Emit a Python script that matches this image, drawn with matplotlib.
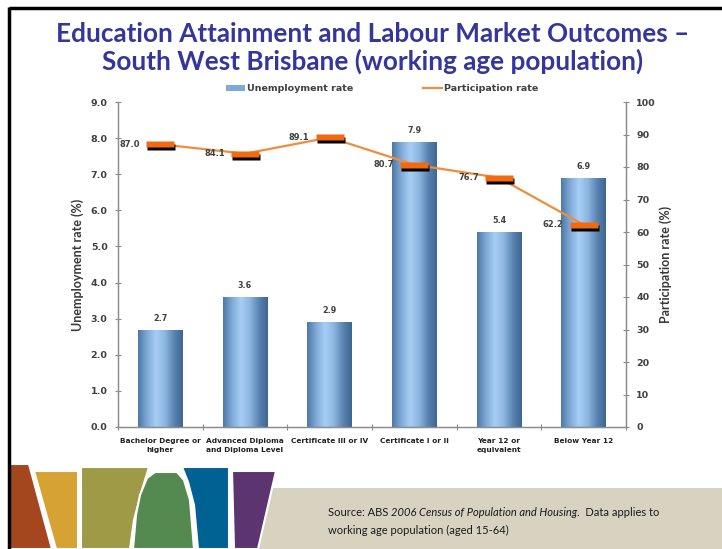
import numpy as np
import matplotlib
matplotlib.use("Agg")
import matplotlib.pyplot as plt
from matplotlib.patches import Polygon, Rectangle
from matplotlib.lines import Line2D
from matplotlib.transforms import offset_copy
from matplotlib.colors import LinearSegmentedColormap

categories = [
    "Bachelor Degree or\nhigher",
    "Advanced Diploma\nand Diploma Level",
    "Certificate III or IV",
    "Certificate I or II",
    "Year 12 or\nequivalent",
    "Below Year 12",
]
unemployment = [2.7, 3.6, 2.9, 7.9, 5.4, 6.9]
participation = [87.0, 84.1, 89.1, 80.7, 76.7, 62.2]
unemp_ticks = np.arange(0, 10, 1)
part_ticks = np.arange(0, 101, 10)

TITLE = "Education Attainment and Labour Market Outcomes \u2013\nSouth West Brisbane (working age population)"
TITLE_COLOR = "#34369C"
LABEL_COLOR = "#404040"
AXIS_COLOR = "#8C8C8C"
LINE_COLOR = "#F08C3C"
MARK_COLOR = "#F26A0F"

W, H = 722, 549
fig = plt.figure(figsize=(W / 100, H / 100), dpi=100)
fig.patch.set_facecolor("white")

# chart area in pixel terms: x 118..626, y 102..427
ax = fig.add_axes([118 / W, 1 - 427 / H, (626 - 118) / W, (427 - 102) / H])
ax2 = ax.twinx()

x = np.arange(len(categories))
bars = ax.bar(x, unemployment, width=0.53, color="none", edgecolor="none", zorder=2)

cyl = LinearSegmentedColormap.from_list(
    "cyl", ["#4C78A6", "#7FA9D6", "#A6CEF5", "#8DB6E0", "#5A84B2", "#3E6690"]
)
grad = np.linspace(0, 1, 256).reshape(1, -1)
for b in bars:
    x0, y0, w, h = b.get_x(), b.get_y(), b.get_width(), b.get_height()
    im = ax.imshow(grad, cmap=cyl, extent=(x0, x0 + w, y0, y0 + h),
                   aspect="auto", zorder=2, interpolation="bicubic")
    im.set_clip_path(b)

for xi, v in zip(x, unemployment):
    ax.annotate(f"{v:.1f}", (xi, v), xytext=(0, 5), textcoords="offset points",
                ha="center", va="bottom", fontsize=5.8, fontweight="bold",
                color=LABEL_COLOR)

ax.set_xlim(-0.5, len(categories) - 0.5)
ax.set_ylim(0, 9)
ax2.set_ylim(0, 100)

# participation line with bar-shaped markers and black shadows
ax2.plot(x, participation, color=LINE_COLOR, lw=1.6, zorder=3)
rect = [(-2.5, -0.5), (2.5, -0.5), (2.5, 0.5), (-2.5, 0.5), (-2.5, -0.5)]
shadow_tr = offset_copy(ax2.transData, fig=fig, x=1.0, y=-3.0, units="dots")
ax2.plot(x, participation, ls="none", marker=rect, markersize=20.5,
         color="black", mec="none", transform=shadow_tr, zorder=4)
ax2.plot(x, participation, ls="none", marker=rect, markersize=20.5,
         color=MARK_COLOR, mec="none", zorder=5)
for xi, v in zip(x, participation):
    ax2.annotate(f"{v:.1f}", (xi, v), xytext=(-14.5, 0), textcoords="offset points",
                 ha="right", va="center", fontsize=6, fontweight="bold",
                 color=LABEL_COLOR, zorder=6)

# axes styling
for a in (ax, ax2):
    for s in a.spines.values():
        s.set_color(AXIS_COLOR)
        s.set_linewidth(0.9)
    a.spines["top"].set_visible(False)

ax.set_yticks(unemp_ticks)
ax.set_yticklabels([f"{t:.1f}" for t in unemp_ticks])
ax2.set_yticks(part_ticks)
ax2.set_yticklabels([f"{t}" for t in part_ticks])
ax.tick_params(axis="y", direction="inout", length=5, width=0.8, color=AXIS_COLOR,
               labelsize=6.8, labelcolor=LABEL_COLOR, pad=5)
ax2.tick_params(axis="y", direction="inout", length=5, width=0.8, color=AXIS_COLOR,
                labelsize=6.8, labelcolor=LABEL_COLOR, pad=5)
for lab in ax.get_yticklabels() + ax2.get_yticklabels():
    lab.set_fontweight("bold")

ax.set_xticks(np.arange(-0.5, len(categories), 1.0))
ax.set_xticklabels([])
ax.set_xticks(x, minor=True)
ax.set_xticklabels(categories, minor=True, linespacing=1.55)
ax.tick_params(axis="x", which="major", direction="inout", length=5, width=0.8,
               color=AXIS_COLOR)
ax.tick_params(axis="x", which="minor", length=0, labelsize=5.3,
               labelcolor="#202020", pad=8)
for lab in ax.get_xticklabels(minor=True):
    lab.set_fontweight("bold")

ax.set_ylabel("Unemployment rate (%)", fontsize=9, fontweight="bold",
              color="#383838", family="Lato", labelpad=5)
ax2.set_ylabel("Participation rate (%)", fontsize=9, fontweight="bold",
               color="#383838", family="Lato", labelpad=2)

# legend
h_bar = Rectangle((0, 0), 1, 1, facecolor="#7FA9D6", edgecolor="none")
h_line = Line2D([], [], color=LINE_COLOR, lw=1.6)
leg = ax.legend([h_bar, h_line], ["Unemployment rate", "Participation rate"],
                loc="lower center", bbox_to_anchor=(0.52, 1.015), ncol=2,
                frameon=False, fontsize=6.8, handlelength=2.0, handleheight=0.5,
                columnspacing=7.3, handletextpad=0.3, borderaxespad=0)
for t in leg.get_texts():
    t.set_fontweight("bold")
    t.set_color(LABEL_COLOR)

fig.text(373 / W, 1 - 48 / H, TITLE, ha="center", va="center", fontsize=18.8,
         fontweight="bold", color=TITLE_COLOR, family="Lato", linespacing=1.12)

# decorative slide footer and frame, in pixel coordinates
deco = fig.add_axes([0, 0, 1, 1], zorder=-1)
deco.set_xlim(0, W)
deco.set_ylim(H, 0)
deco.axis("off")

deco.add_patch(Polygon([(272, 488), (W, 488), (W, H), (252, H)], closed=True,
                       facecolor="#D8D3C1", edgecolor="none"))
shapes = [
    ("#A4471E", [(9, 464), (29, 464), (52, H), (9, H)]),
    ("#D5A233", [(34, 471), (78, 471), (78, H), (56, H)]),
    ("#9E9A46", [(81, 467), (149, 467), (142, 490), (134, 520), (130, H), (81, H)]),
    ("#548A4F", [(140, 495), (147, 478), (155, 472), (177, 472), (184, 480), (190, 500),
                 (194, H), (133, H), (136, 515)]),
    ("#006193", [(182, 467), (229, 467), (229, H), (198, H), (194, 505), (188, 482)]),
    ("#5C3470", [(232, 471), (276, 471), (258, H), (234, H)]),
]
for col, pts in shapes:
    deco.add_patch(Polygon(pts, closed=True, facecolor=col, edgecolor="white", lw=1.5))

deco.plot([9, W], [8, 8], color="black", lw=2.5, solid_capstyle="butt")
deco.plot([9, 9], [7, H], color="black", lw=2.5, solid_capstyle="butt")

# source note with italic title
fig.canvas.draw()
renderer = fig.canvas.get_renderer()
parts = [("Source: ABS ", "normal"), ("2006 Census of Population and Housing", "italic"),
         (".  Data applies to", "normal")]
cx = 328
for txt, style in parts:
    t = deco.text(cx, 513, txt, fontsize=8.0, family="Lato", style=style,
                  color="#1A1A1A", va="center", ha="left")
    cx += t.get_window_extent(renderer).width
deco.text(328, 530, "working age population (aged 15-64)", fontsize=8.0, family="Lato",
          color="#1A1A1A", va="center", ha="left")

fig.savefig("out.png", dpi=100)
